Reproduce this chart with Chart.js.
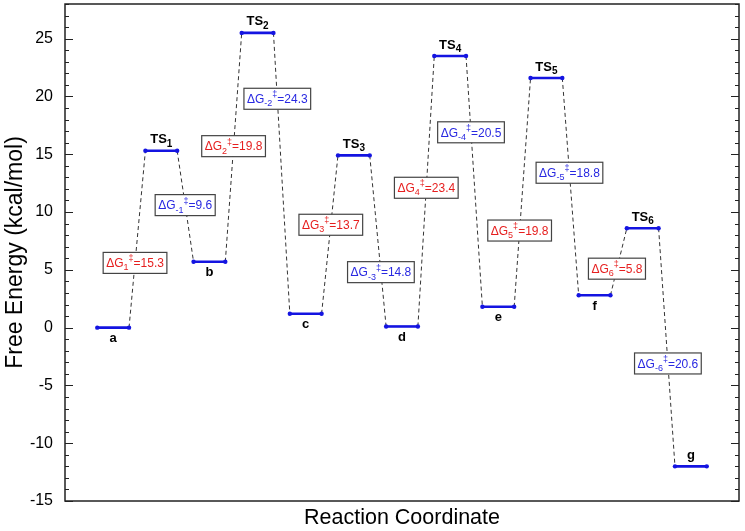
<!DOCTYPE html>
<html>
<head>
<meta charset="utf-8">
<script src="https://cdn.jsdelivr.net/npm/chart.js@4.4.0/dist/chart.umd.min.js"></script>
<style>
html, body { margin: 0; padding: 0; background: #fff; }
#wrap { width: 745px; height: 531px; }
</style>
</head>
<body>
<div id="wrap"><canvas id="c"></canvas></div>
<script>
// states along the path and their free energies (kcal/mol)
var stateNames = ['a', 'TS1', 'b', 'TS2', 'c', 'TS3', 'd', 'TS4', 'e', 'TS5', 'f', 'TS6', 'g'];
var energies = [0, 15.3, 5.7, 25.5, 1.2, 14.9, 0.1, 23.5, 1.8, 21.6, 2.8, 8.6, -12.0];
var labelAbove = [false, true, false, true, false, true, false, true, false, true, false, true, true];

// barrier labels on each connector
var barrierSubs = ['1', '-1', '2', '-2', '3', '-3', '4', '-4', '5', '-5', '6', '-6'];
var barrierValues = ['15.3', '9.6', '19.8', '24.3', '13.7', '14.8', '23.4', '20.5', '19.8', '18.8', '5.8', '20.6'];
var barrierLabelY = [5.6, 10.6, 15.7, 19.8, 8.9, 4.8, 12.1, 16.9, 8.4, 13.4, 5.1, -3.1];

var yTicks = [-15, -10, -5, 0, 5, 10, 15, 20, 25];

var halfW = 0.33;
var blue = 'rgb(20,20,225)';
var red = 'rgb(230,30,30)';
var txtBlue = 'rgb(40,40,225)';
var FONT = '"Liberation Sans", Arial, Helvetica, sans-serif';

var datasets = [];
stateNames.forEach(function (s, i) {
    datasets.push({
        data: [{x: i - halfW, y: energies[i]}, {x: i + halfW, y: energies[i]}],
        showLine: true,
        borderColor: blue,
        backgroundColor: blue,
        borderWidth: 2.6,
        pointRadius: 2.2,
        pointBorderWidth: 0,
        order: 0
    });
});
for (var i = 0; i < stateNames.length - 1; i++) {
    datasets.push({
        data: [{x: i + halfW, y: energies[i]}, {x: i + 1 - halfW, y: energies[i + 1]}],
        showLine: true,
        borderColor: '#333',
        borderWidth: 1,
        borderDash: [4, 3],
        pointRadius: 0,
        order: 1
    });
}

function drawParts(ctx, parts, cx, cy, color) {
    var w = 0;
    parts.forEach(function (p) { ctx.font = p.f; w += ctx.measureText(p.t).width; });
    var x = cx - w / 2;
    ctx.fillStyle = color;
    ctx.textBaseline = 'middle';
    ctx.textAlign = 'left';
    parts.forEach(function (p) {
        ctx.font = p.f;
        ctx.fillText(p.t, x, cy + (p.dy || 0));
        x += ctx.measureText(p.t).width;
    });
    return w;
}

var annotations = {
    id: 'annotations',
    afterDatasetsDraw: function (chart) {
        var ctx = chart.ctx, xs = chart.scales.x, ys = chart.scales.y;
        ctx.save();
        // barrier boxes
        for (var i = 0; i < barrierSubs.length; i++) {
            var e0 = energies[i], e1 = energies[i + 1];
            var t = (barrierLabelY[i] - e0) / (e1 - e0);
            var xv = i + halfW + t * (1 - 2 * halfW);
            var cx = xs.getPixelForValue(xv), cy = ys.getPixelForValue(barrierLabelY[i]);
            var parts = [
                {t: '\u0394G', f: '12px ' + FONT},
                {t: barrierSubs[i], f: '9px ' + FONT, dy: 4},
                {t: '\u2021', f: '9px ' + FONT, dy: -5},
                {t: '=' + barrierValues[i], f: '12px ' + FONT}
            ];
            var w = 0;
            parts.forEach(function (p) { ctx.font = p.f; w += ctx.measureText(p.t).width; });
            var bw = w + 6, bh = 21;
            ctx.fillStyle = '#fff';
            ctx.fillRect(cx - bw / 2, cy - bh / 2, bw, bh);
            ctx.strokeStyle = '#444';
            ctx.lineWidth = 1.2;
            ctx.strokeRect(cx - bw / 2, cy - bh / 2, bw, bh);
            drawParts(ctx, parts, cx, cy + 1, i % 2 === 0 ? red : txtBlue);
        }
        // state labels
        stateNames.forEach(function (s, i) {
            var cx = xs.getPixelForValue(i), py = ys.getPixelForValue(energies[i]);
            var cy = labelAbove[i] ? py - 11 : py + 11;
            var parts;
            if (s.indexOf('TS') === 0) {
                parts = [{t: 'TS', f: 'bold 13px ' + FONT}, {t: s.slice(2), f: 'bold 10px ' + FONT, dy: 4}];
            } else {
                parts = [{t: s, f: 'bold 13px ' + FONT}];
            }
            drawParts(ctx, parts, cx, cy, '#000');
        });
        ctx.restore();
    },
    afterDraw: function (chart) {
        var ctx = chart.ctx, a = chart.chartArea, ys = chart.scales.y;
        ctx.save();
        ctx.strokeStyle = '#222';
        ctx.lineWidth = 1.5;
        ctx.strokeRect(a.left, a.top, a.right - a.left, a.bottom - a.top);
        ctx.lineWidth = 1.2;
        ctx.beginPath();
        for (var v = ys.min; v <= ys.max; v++) {
            var len = yTicks.indexOf(v) >= 0 ? 8 : 4;
            var py = Math.round(ys.getPixelForValue(v)) + 0.5;
            ctx.moveTo(a.left, py); ctx.lineTo(a.left + len, py);
            ctx.moveTo(a.right, py); ctx.lineTo(a.right - len, py);
        }
        ctx.stroke();
        ctx.restore();
    }
};

new Chart(document.getElementById('c'), {
    type: 'scatter',
    data: {datasets: datasets},
    options: {
        responsive: true,
        maintainAspectRatio: false,
        animation: false,
        layout: {padding: {left: 0, top: 4, right: 6, bottom: 0}},
        plugins: {legend: {display: false}, tooltip: {enabled: false}},
        scales: {
            x: {
                type: 'linear',
                min: -1,
                max: 13,
                grid: {display: false, drawTicks: false},
                border: {display: false},
                ticks: {display: false},
                title: {display: true, text: 'Reaction Coordinate', color: '#000',
                    font: {family: FONT, size: 21.5}, padding: 0},
                afterFit: function (s) { s.height = 30; s.paddingLeft = 0; s.paddingRight = 0; }
            },
            y: {
                min: -15,
                max: 28,
                grid: {display: false, drawTicks: false},
                border: {display: false},
                afterBuildTicks: function (s) { s.ticks = yTicks.map(function (v) { return {value: v}; }); },
                ticks: {color: '#000', font: {family: FONT, size: 16}, padding: 12},
                title: {display: true, text: 'Free Energy (kcal/mol)', color: '#000',
                    font: {family: FONT, size: 23}, padding: {top: 2, bottom: 0}},
                afterFit: function (s) { s.width = 65; s.paddingTop = 0; s.paddingBottom = 0; }
            }
        }
    },
    plugins: [annotations]
});
</script>
</body>
</html>
